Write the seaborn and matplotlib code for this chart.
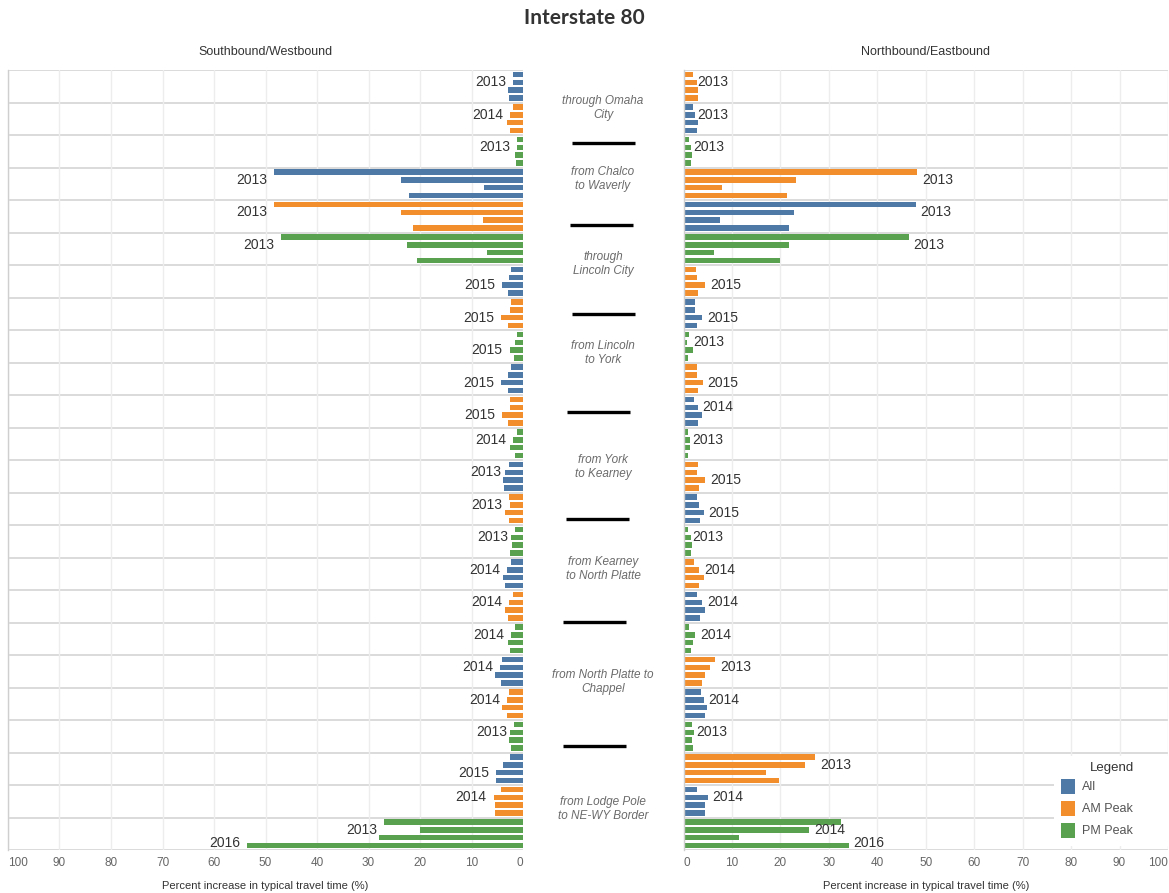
import matplotlib
matplotlib.use("Agg")
import matplotlib.pyplot as plt
import numpy as np
import pandas as pd
import seaborn as sns
from matplotlib.lines import Line2D
from matplotlib.patches import Rectangle

sns.set_theme(style="white")
plt.rcParams["font.family"] = ["Liberation Sans", "DejaVu Sans"]

# ---------------------------------------------------------------- data
years = ["2013", "2014", "2015", "2016"]
segments = [
    "through Omaha\nCity",
    "from Chalco\nto Waverly",
    "through\nLincoln City",
    "from Lincoln\nto York",
    "from York\nto Kearney",
    "from Kearney\nto North Platte",
    "from North Platte to\nChappel",
    "from Lodge Pole\nto NE-WY Border",
]
measures = ["All", "AM Peak", "PM Peak"]

# Southbound / Westbound: percent increase per segment, one value per year
sb_all = [[2.0, 2.0, 2.9, 2.7], [48.3, 23.6, 7.6, 22.2], [2.3, 2.8, 4.0, 3.0],
          [2.3, 3.0, 4.3, 3.0], [2.8, 3.4, 3.8, 3.6], [2.3, 3.1, 3.8, 3.5],
          [4.0, 4.4, 5.5, 4.3], [2.5, 3.9, 5.3, 5.3]]
sb_am = [[2.0, 2.5, 3.1, 2.5], [48.3, 23.6, 7.8, 21.4], [2.3, 2.6, 4.3, 3.0],
         [2.6, 2.6, 4.0, 3.0], [2.7, 2.6, 3.4, 2.7], [1.9, 2.7, 3.4, 3.0],
         [2.7, 3.1, 4.0, 3.2], [4.2, 5.7, 5.4, 5.4]]
sb_pm = [[1.2, 1.1, 1.5, 1.3], [47.0, 22.5, 7.0, 20.6], [1.2, 1.5, 2.6, 1.7],
         [1.1, 1.9, 2.6, 1.5], [1.6, 2.3, 2.1, 2.6], [1.5, 2.3, 2.9, 2.6],
         [1.7, 2.6, 2.7, 2.3], [26.9, 20.0, 27.9, 53.5]]

sb_all_tags = [["2013"], ["2013"], ["2015"], ["2015"], ["2013"], ["2014"], ["2014"], ["2015"]]
sb_am_tags = [["2014"], ["2013"], ["2015"], ["2015"], ["2013"], ["2014"], ["2014"], ["2014"]]
sb_pm_tags = [["2013"], ["2013"], ["2015"], ["2014"], ["2013"], ["2014"], ["2013"], ["2013", "2016"]]

# Northbound / Eastbound
nb_all = [[1.9, 2.3, 2.9, 2.7], [47.9, 22.8, 7.5, 21.7], [2.4, 2.4, 3.9, 2.7],
          [2.2, 2.9, 3.8, 2.9], [2.7, 3.1, 4.2, 3.5], [2.8, 3.9, 4.5, 3.5],
          [3.7, 4.2, 4.9, 4.4], [2.7, 5.0, 4.5, 4.4]]
nb_am = [[1.9, 2.7, 2.9, 2.9], [48.2, 23.2, 8.0, 21.4], [2.6, 2.8, 4.5, 3.0],
         [2.7, 2.7, 4.0, 3.0], [3.0, 2.8, 4.5, 3.3], [2.1, 3.3, 4.2, 3.3],
         [6.6, 5.5, 4.5, 3.9], [27.2, 25.0, 17.0, 19.7]]
nb_pm = [[1.1, 1.6, 1.8, 1.6], [46.5, 21.7, 6.2, 19.9], [1.1, 0.8, 1.9, 1.0],
         [0.9, 1.4, 1.4, 0.9], [0.9, 1.5, 1.8, 1.5], [1.1, 2.4, 2.0, 1.5],
         [1.7, 2.1, 1.7, 1.9], [32.5, 25.9, 11.5, 34.1]]

nb_all_tags = [["2013"], ["2013"], ["2015"], ["2014"], ["2015"], ["2014"], ["2014"], ["2014"]]
nb_am_tags = [["2013"], ["2013"], ["2015"], ["2015"], ["2015"], ["2014"], ["2013"], ["2013"]]
nb_pm_tags = [["2013"], ["2013"], ["2013"], ["2013"], ["2013"], ["2014"], ["2013"], ["2014", "2016"]]

# ---------------------------------------------------------------- styling
colors = {"All": "#4E79A7", "AM Peak": "#F28E2B", "PM Peak": "#59A14F"}
tag_slot = {"2013": 1.0, "2014": 1.0, "2015": 2.0, "2016": 2.7}
W, H = 1169, 893
TXT = "#333333"
TICK = "#666666"


def build_frame(values, tags, order):
    recs, labels = [], []
    for s in range(len(segments)):
        for k, m in enumerate(order):
            row = s * len(order) + k
            for yr, v in zip(years, values[m][s]):
                recs.append({"row": str(row), "measure": m, "year": yr, "value": v})
            for yr in tags[m][s]:
                labels.append((row, yr, values[m][s][years.index(yr)]))
    return pd.DataFrame(recs), labels


sb_df, sb_labels = build_frame(
    {"All": sb_all, "AM Peak": sb_am, "PM Peak": sb_pm},
    {"All": sb_all_tags, "AM Peak": sb_am_tags, "PM Peak": sb_pm_tags},
    ["All", "AM Peak", "PM Peak"])
nb_df, nb_labels = build_frame(
    {"All": nb_all, "AM Peak": nb_am, "PM Peak": nb_pm},
    {"All": nb_all_tags, "AM Peak": nb_am_tags, "PM Peak": nb_pm_tags},
    ["AM Peak", "All", "PM Peak"])

n_rows = 3 * len(segments)
row_order = [str(i) for i in range(n_rows)]

fig = plt.figure(figsize=(W / 100, H / 100), dpi=100)
fig.patch.set_facecolor("white")


def px_axes(x0, x1, y0, y1):
    return fig.add_axes([x0 / W, 1 - y1 / H, (x1 - x0) / W, (y1 - y0) / H])


ax_l = px_axes(8, 523, 70, 850)
ax_r = px_axes(683.5, 1168, 70, 850)


def draw_panel(ax, df, labels, side):
    for m in measures:
        sub = df[df["measure"] == m]
        sns.barplot(data=sub, x="value", y="row", hue="year", order=row_order,
                    hue_order=years, palette=[colors[m]] * len(years),
                    saturation=1, width=0.96, gap=0.3, errorbar=None, legend=False,
                    linewidth=0, orient="h", ax=ax)
    ax.set_ylim(n_rows - 0.5, -0.5)
    if side == "left":
        ax.set_xlim(100, 0)
    else:
        ax.set_xlim(0, 100)
    ax.set_yticks([])
    ax.set_ylabel("")
    ticks = list(range(0, 101, 10))
    ax.set_xticks(ticks)
    ax.set_xticklabels([str(t) for t in ticks])
    ax.tick_params(axis="x", length=0, pad=5, labelsize=8.5, labelcolor=TICK)
    for t, lab in zip(ticks, ax.get_xticklabels()):
        if t == 100:
            lab.set_ha("left" if side == "left" else "right")
        elif t == 0:
            lab.set_ha("right" if side == "left" else "left")
    ax.grid(axis="x", color="#ededed", lw=1)
    ax.grid(axis="y", visible=False)
    ax.set_axisbelow(True)
    for sp in ax.spines.values():
        sp.set_visible(False)
    ax.spines["left"].set_visible(True)
    ax.spines["left"].set_color("#cfcfcf")
    ax.spines["left"].set_linewidth(1)
    for yb in np.arange(-0.5, n_rows, 1):
        ax.axhline(yb, color="#d8d8d8", lw=1.3, zorder=0.5)
    ax.set_xlabel("Percent increase in typical travel time (%)", fontsize=8,
                  color=TXT, labelpad=9)
    for row, yr, v in labels:
        yy = row - 0.36 + 0.24 * tag_slot[yr]
        if side == "left":
            ax.annotate(yr, xy=(v, yy), xytext=(-5, 0), textcoords="offset points",
                        ha="right", va="center", fontsize=10, color=TXT)
        else:
            ax.annotate(yr, xy=(v, yy), xytext=(3.5, 0), textcoords="offset points",
                        ha="left", va="center", fontsize=10, color=TXT)


draw_panel(ax_l, sb_df, sb_labels, "left")
draw_panel(ax_r, nb_df, nb_labels, "right")

# titles
fig.text(0.5, 1 - 18 / H, "Interstate 80", ha="center", va="center",
         fontsize=15, fontweight="bold", color=TXT, family=["Lato", "DejaVu Sans"])
fig.text(265.5 / W, 1 - 52 / H, "Southbound/Westbound", ha="center", va="center",
         fontsize=9, color=TXT)
fig.text(925.75 / W, 1 - 52 / H, "Northbound/Eastbound", ha="center", va="center",
         fontsize=9, color=TXT)

# segment names and separators in the centre column
seg_label_y = [108, 179, 264, 353, 467, 569, 682, 809]
for name, yp in zip(segments, seg_label_y):
    fig.text(603 / W, 1 - yp / H, name, ha="center", va="center", fontsize=8.5,
             style="italic", color="#6b6b6b", linespacing=1.25)
dash_pos = [(572, 635, 143), (570, 633, 225), (572, 635, 314), (567, 630, 412),
            (566, 629, 519), (563, 626, 622), (563, 626, 746)]
for x0, x1, yp in dash_pos:
    fig.add_artist(Line2D([x0 / W, x1 / W], [1 - yp / H, 1 - yp / H],
                          transform=fig.transFigure, color="black", lw=2.4,
                          solid_capstyle="butt"))

# legend box
fig.add_artist(Rectangle((1054 / W, 1 - 846 / H), (1168 - 1054) / W, (846 - 756) / H,
                         transform=fig.transFigure, facecolor="white",
                         edgecolor="none", zorder=5))
fig.text(1112 / W, 1 - 768 / H, "Legend", ha="center", va="center", fontsize=9.5,
         color=TXT, zorder=6)
for m, yc in zip(measures, [786, 808, 830]):
    fig.add_artist(Rectangle((1060.5 / W, 1 - (yc + 7.5) / H), 14.5 / W, 15 / H,
                             transform=fig.transFigure, facecolor=colors[m],
                             edgecolor="none", zorder=6))
    fig.text(1082 / W, 1 - (yc + 1) / H, m, ha="left", va="center", fontsize=9,
             color="#555555", zorder=6)

fig.savefig("out.png", dpi=100, facecolor="white")
